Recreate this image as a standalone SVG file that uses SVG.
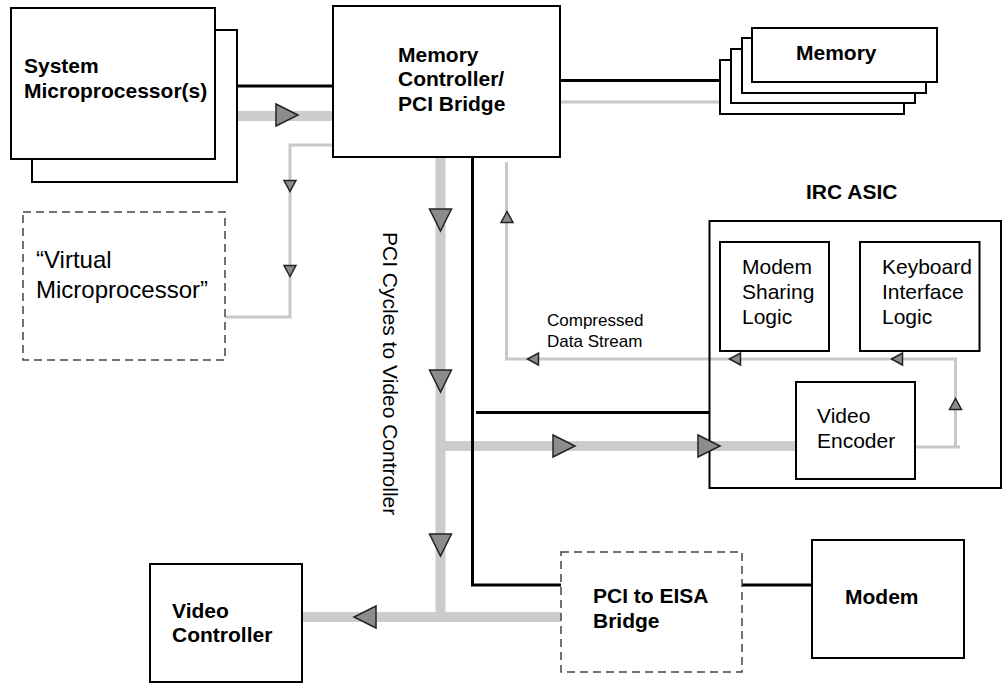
<svg xmlns="http://www.w3.org/2000/svg" width="1007" height="684" viewBox="0 0 1007 684">
<style>
.box{fill:#fff;stroke:#000;stroke-width:2}
.dash{fill:#fff;stroke:#444;stroke-width:1.5;stroke-dasharray:8 5}
.b{font-family:"Liberation Sans",Arial,sans-serif;font-weight:bold;font-size:21px;fill:#000}
.r{font-family:"Liberation Sans",Arial,sans-serif;font-size:21px;fill:#000}
.thick{stroke:#cccccc;stroke-width:10;fill:none}
.thin{stroke:#c8c8c8;stroke-width:3;fill:none}
.blk{stroke:#000;stroke-width:3;fill:none}
.arr{fill:#8c8c8c;stroke:#222;stroke-width:1.5}
</style>
<defs>
<path id="big" class="arr" d="M-11,-11 L11,0 L-11,11 Z"/>
<path id="sm" class="arr" d="M-5.5,-6 L5.5,0 L-5.5,6 Z"/>
</defs>
<g id="connectors">
<line class="blk" x1="237" y1="86" x2="333" y2="86"/>
<line class="thick" x1="237" y1="116" x2="333" y2="116"/>
<polyline class="thin" points="333,145 290,145 290,317 225,317"/>
<line class="blk" x1="560" y1="80.5" x2="720" y2="80.5"/>
<line class="thin" x1="560" y1="102" x2="720" y2="102"/>
<polyline class="thick" points="440.5,157 440.5,617"/>
<line class="thick" x1="302" y1="617" x2="561" y2="617"/>
<line class="thick" x1="440" y1="446" x2="796" y2="446"/>
<polyline class="blk" points="472.5,157 472.5,585 561,585"/>
<line class="blk" x1="476" y1="412.5" x2="710" y2="412.5"/>
<polyline class="thin" points="506.5,162 506.5,359 955.5,359 955.5,447 915,447"/>
<line class="thin" x1="955" y1="447" x2="960" y2="447"/>
<line class="blk" x1="742" y1="585" x2="812" y2="585"/>
</g>
<g id="n-sysmicro">
<rect class="box" x="32" y="30" width="205" height="152"/>
<rect class="box" x="11" y="8" width="204" height="151"/>
<text class="b" x="24" y="73">System</text>
<text class="b" x="24" y="98">Microprocessor(s)</text>
</g>
<g id="n-memctrl">
<rect class="box" x="333" y="6" width="227" height="151"/>
<text class="b" x="398" y="62">Memory</text>
<text class="b" x="398" y="86">Controller/</text>
<text class="b" x="398" y="111">PCI Bridge</text>
</g>
<g id="n-memory">
<rect class="box" x="720" y="60" width="184" height="54"/>
<rect class="box" x="731" y="49" width="184" height="54"/>
<rect class="box" x="742" y="38" width="184" height="55"/>
<rect class="box" x="752" y="28" width="185" height="54"/>
<text class="b" x="796" y="60">Memory</text>
</g>
<g id="n-virtual">
<rect class="dash" x="23" y="212" width="202" height="148"/>
<text class="r" x="36" y="268" style="font-size:24px">“Virtual</text>
<text class="r" x="36" y="298" style="font-size:24px">Microprocessor”</text>
</g>
<g id="n-ircasic">
<text class="b" x="806" y="199">IRC ASIC</text>
<rect class="box" x="709.5" y="221" width="291.5" height="267" style="fill:none"/>
</g>
<g id="n-modemsharing">
<rect class="box" x="720" y="242" width="109" height="109"/>
<text class="r" x="742" y="274">Modem</text>
<text class="r" x="742" y="299">Sharing</text>
<text class="r" x="742" y="324">Logic</text>
</g>
<g id="n-keyboard">
<rect class="box" x="860" y="242" width="119.5" height="109"/>
<text class="r" x="882" y="274">Keyboard</text>
<text class="r" x="882" y="299">Interface</text>
<text class="r" x="882" y="324">Logic</text>
</g>
<g id="n-videoenc">
<rect class="box" x="796" y="382" width="119" height="97"/>
<text class="r" x="817" y="423">Video</text>
<text class="r" x="817" y="448">Encoder</text>
</g>
<g id="n-compressed">
<text class="r" x="547" y="326" style="font-size:17px">Compressed</text>
<text class="r" x="547" y="347" style="font-size:17px">Data Stream</text>
</g>
<g id="n-pcilabel">
<text class="r" transform="translate(383,232) rotate(90)">PCI Cycles to Video Controller</text>
</g>
<g id="n-videoctrl">
<rect class="box" x="150" y="564" width="152" height="118"/>
<text class="b" x="172" y="618">Video</text>
<text class="b" x="172" y="642">Controller</text>
</g>
<g id="n-eisa">
<rect class="dash" x="561" y="552" width="181" height="120"/>
<text class="b" x="593" y="603">PCI to EISA</text>
<text class="b" x="593" y="628">Bridge</text>
</g>
<g id="n-modem">
<rect class="box" x="812" y="540" width="152" height="118"/>
<text class="b" x="845" y="604">Modem</text>
</g>
<g id="arrows">
<use href="#big" transform="translate(287,115)"/>
<use href="#big" transform="translate(440.5,220) rotate(90)"/>
<use href="#big" transform="translate(440.5,381) rotate(90)"/>
<use href="#big" transform="translate(440.5,545) rotate(90)"/>
<use href="#big" transform="translate(564,446)"/>
<use href="#big" transform="translate(709,446)"/>
<use href="#big" transform="translate(365,617) rotate(180)"/>
<use href="#sm" transform="translate(290,186) rotate(90)"/>
<use href="#sm" transform="translate(290,271) rotate(90)"/>
<use href="#sm" transform="translate(507,217) rotate(-90)"/>
<use href="#sm" transform="translate(533,359) rotate(180)"/>
<use href="#sm" transform="translate(735,359) rotate(180)"/>
<use href="#sm" transform="translate(897,359) rotate(180)"/>
<use href="#sm" transform="translate(955.5,404) rotate(-90)"/>
</g>
</svg>
